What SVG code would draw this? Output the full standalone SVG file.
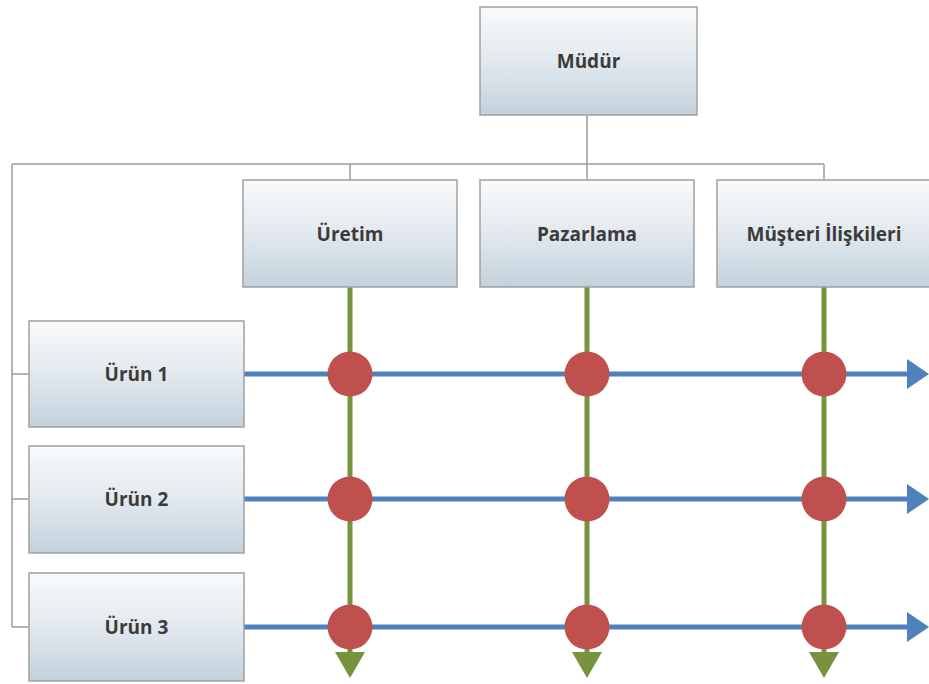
<svg xmlns="http://www.w3.org/2000/svg" width="929" height="684" viewBox="0 0 929 684">
<defs>
<linearGradient id="g" x1="0" y1="0" x2="0" y2="1">
<stop offset="0" stop-color="#f9fafb"/>
<stop offset="0.5" stop-color="#e2e9ee"/>
<stop offset="1" stop-color="#c3d1dc"/>
</linearGradient>
<marker id="ab" viewBox="0 0 22 30" refX="0" refY="15" markerUnits="userSpaceOnUse" markerWidth="22" markerHeight="30" orient="auto">
<path d="M0,0 L22,15 L0,30 Z" fill="#4f81bd"/>
</marker>
<marker id="ag" viewBox="0 0 26 30" refX="0" refY="15" markerUnits="userSpaceOnUse" markerWidth="26" markerHeight="30" orient="auto">
<path d="M0,0 L26,15 L0,30 Z" fill="#77933c"/>
</marker>
</defs>
<style>
.box{fill:url(#g);stroke:#a0a0a0;stroke-width:1.5}
.lbl{font-family:"Open Sans","DejaVu Sans",sans-serif;font-weight:bold;font-size:19px;fill:#3b3b3b;text-anchor:middle;dominant-baseline:central}
.tree{fill:none;stroke:#9c9c9c;stroke-width:1.5}
.blue{stroke:#4f81bd;stroke-width:5;fill:none}
.green{stroke:#77933c;stroke-width:5;fill:none}
.dot{fill:#c0504d}
</style>
<g id="connectors">
<path class="tree" d="M587,115 V164 M12,164 H824 M350,164 V180 M587,164 V180 M824,164 V180 M12,164 V627 M12,374 H29 M12,499 H29 M12,627 H29"/>
<path class="green" d="M350,287 V652" marker-end="url(#ag)"/>
<path class="green" d="M587,287 V652" marker-end="url(#ag)"/>
<path class="green" d="M824,287 V652" marker-end="url(#ag)"/>
<path class="blue" d="M244,374 H907" marker-end="url(#ab)"/>
<path class="blue" d="M244,499 H907" marker-end="url(#ab)"/>
<path class="blue" d="M244,627 H907" marker-end="url(#ab)"/>
<g id="junctions">
<circle class="dot" cx="350" cy="374" r="22.5"/><circle class="dot" cx="587" cy="374" r="22.5"/><circle class="dot" cx="824" cy="374" r="22.5"/>
<circle class="dot" cx="350" cy="499" r="22.5"/><circle class="dot" cx="587" cy="499" r="22.5"/><circle class="dot" cx="824" cy="499" r="22.5"/>
<circle class="dot" cx="350" cy="627" r="22.5"/><circle class="dot" cx="587" cy="627" r="22.5"/><circle class="dot" cx="824" cy="627" r="22.5"/>
</g>
</g>
<g id="mudur"><rect class="box" x="480" y="7" width="217" height="108"/><text class="lbl" x="588.5" y="61">Müdür</text></g>
<g id="uretim"><rect class="box" x="243" y="180" width="214" height="107"/><text class="lbl" x="350" y="234">Üretim</text></g>
<g id="pazarlama"><rect class="box" x="480" y="180" width="214" height="107"/><text class="lbl" x="587" y="234">Pazarlama</text></g>
<g id="musteri"><rect class="box" x="717" y="180" width="214" height="107"/><text class="lbl" x="824" y="234">Müşteri İlişkileri</text></g>
<g id="urun1"><rect class="box" x="29" y="321" width="215" height="106"/><text class="lbl" x="136.5" y="374">Ürün 1</text></g>
<g id="urun2"><rect class="box" x="29" y="446" width="215" height="107"/><text class="lbl" x="136.5" y="499">Ürün 2</text></g>
<g id="urun3"><rect class="box" x="29" y="573" width="215" height="108"/><text class="lbl" x="136.5" y="627">Ürün 3</text></g>
</svg>
